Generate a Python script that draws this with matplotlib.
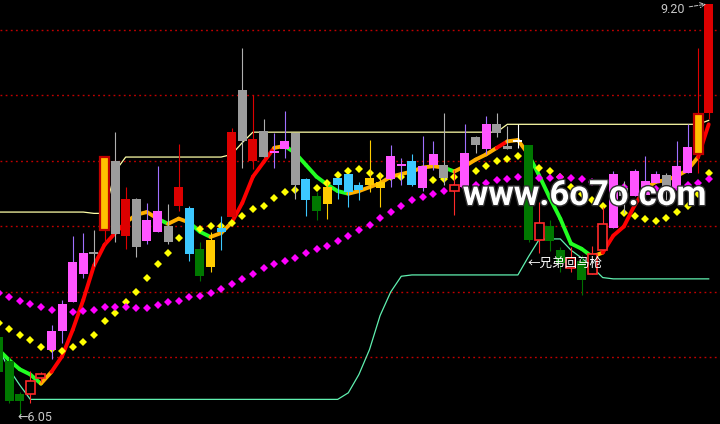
import matplotlib
matplotlib.use('Agg')
import matplotlib.pyplot as plt
import matplotlib.patheffects as pe
from matplotlib.patches import Rectangle
from matplotlib.collections import LineCollection

# daily bars (price axis is linear, 0.5 per grid line)
opens = [6.66, 6.47, 6.22, 6.22, 6.34, 6.56, 6.70, 6.92, 7.14, 7.30,
         7.47, 8.00, 7.71, 7.71, 7.39, 7.46, 7.50, 7.80, 7.64, 7.33,
         7.19, 7.49, 7.57, 8.15, 8.17, 8.03, 8.06, 8.09, 8.21, 7.86,
         7.73, 7.67, 7.87, 7.90, 7.82, 7.82, 7.79, 7.86, 7.98, 8.00,
         7.79, 7.97, 7.97, 7.77, 7.80, 8.18, 8.09, 8.28, 8.115, 8.15,
         8.12, 7.40, 7.50, 7.32, 7.18, 7.24, 7.14, 7.32, 7.49, 7.79,
         7.73, 7.74, 7.83, 7.89, 7.79, 7.91, 8.05, 8.37]
closes = [6.39, 6.17, 6.17, 6.32, 6.37, 6.70, 6.91, 7.23, 7.30, 7.29,
          8.03, 7.44, 7.43, 7.34, 7.55, 7.62, 7.38, 7.66, 7.29, 7.12,
          7.40, 7.46, 8.22, 8.54, 8.00, 8.23, 8.08, 8.15, 7.82, 7.70,
          7.62, 7.80, 7.82, 7.76, 7.78, 7.87, 7.84, 8.04, 7.96, 7.82,
          7.96, 8.05, 7.87, 7.82, 8.06, 8.12, 8.28, 8.21, 8.09, 8.145,
          7.40, 7.53, 7.39, 7.22, 7.26, 7.09, 7.29, 7.52, 7.90, 7.73,
          7.92, 7.85, 7.90, 7.80, 7.96, 8.11, 8.36, 9.20]
highs = [6.67, 6.50, 6.24, 6.40, 6.39, 6.75, 6.94, 7.43, 7.45, 7.47,
         8.03, 8.22, 7.80, 7.72, 7.68, 7.96, 7.67, 8.13, 7.66, 7.38,
         7.46, 7.58, 8.25, 8.86, 8.50, 8.32, 8.21, 8.38, 8.21, 7.87,
         7.76, 7.84, 7.87, 7.90, 7.84, 8.16, 7.91, 8.12, 8.02, 8.05,
         8.19, 8.15, 8.37, 7.93, 8.28, 8.19, 8.34, 8.37, 8.27, 8.28,
         8.12, 7.69, 7.55, 7.34, 7.34, 7.28, 7.35, 7.65, 7.92, 7.85,
         7.94, 8.04, 7.92, 7.91, 8.15, 8.28, 8.86, 9.20]
lows = [6.37, 6.15, 6.05, 6.15, 6.31, 6.49, 6.61, 6.92, 7.11, 7.20,
        7.37, 7.38, 7.33, 7.27, 7.37, 7.46, 7.37, 7.62, 7.24, 7.08,
        7.15, 7.32, 7.56, 7.95, 7.94, 8.03, 7.95, 8.02, 7.71, 7.58,
        7.55, 7.56, 7.71, 7.65, 7.70, 7.76, 7.65, 7.80, 7.82, 7.81,
        7.77, 7.93, 7.82, 7.59, 7.80, 8.06, 8.05, 8.18, 8.09, 8.10,
        7.38, 7.30, 7.31, 7.15, 7.15, 6.98, 7.14, 7.32, 7.49, 7.60,
        7.73, 7.74, 7.83, 7.66, 7.69, 7.91, 7.91, 8.32]

# candle colour class per bar
kinds = ['g', 'g', 'g', 'r', 'r', 'm', 'm', 'm', 'm', 'k',
         'o', 'k', 'R', 'k', 'm', 'm', 'k', 'R', 'b', 'g',
         'y', 'b', 'R', 'k', 'R', 'k', 'm', 'm', 'k', 'b',
         'g', 'y', 'b', 'b', 'b', 'y', 'y', 'm', 'm', 'b',
         'm', 'm', 'k', 'r', 'm', 'k', 'm', 'k', 'k', 'w',
         'g', 'r', 'g', 'g', 'r', 'g', 'r', 'r', 'm', 'k',
         'm', 'm', 'm', 'k', 'm', 'm', 'o', 'R']

# thick moving average, coloured by trend
ma_line = [6.56, 6.48, 6.41, 6.37, 6.30, 6.39, 6.51, 6.71, 6.94, 7.20,
           7.36, 7.45, 7.53, 7.59, 7.61, 7.56, 7.52, 7.56, 7.53, 7.46,
           7.42, 7.45, 7.53, 7.68, 7.88, 7.99, 8.10, 8.115, 8.06, 7.97,
           7.88, 7.82, 7.77, 7.75, 7.77, 7.80, 7.83, 7.88, 7.90, 7.92,
           7.95, 7.96, 7.95, 7.92, 7.96, 8.01, 8.05, 8.10, 8.15, 8.16,
           8.05, 7.89, 7.72, 7.56, 7.37, 7.33, 7.27, 7.30, 7.43, 7.50,
           7.66, 7.79, 7.84, 7.855, 7.885, 7.93, 8.03, 8.28]
ma_trend = ("GGGG O RRRRRRR OOO G OO GG OO RRRR O GGGGGG OOOOOOOOO G OOOO R OO "
            "GGGGGG O RRRR OOOOO R").replace(' ', '')

yellow_dots = [6.76, 6.72, 6.67, 6.63, 6.58, 6.565, 6.55, 6.58, 6.62, 6.67,
               6.78, 6.84, 6.92, 7.00, 7.11, 7.21, 7.30, 7.41, 7.45, 7.48,
               7.50, 7.50, 7.53, 7.58, 7.63, 7.66, 7.72, 7.76, 7.78, 7.79,
               7.79, 7.83, 7.89, 7.92, 7.94, 7.91, 7.885, 7.88, 7.88, 7.87,
               7.86, 7.855, 7.86, 7.88, 7.90, 7.92, 7.96, 8.00, 8.015, 8.04,
               7.99, 7.95, 7.92, 7.88, 7.80, 7.75, 7.70, 7.66, 7.63, 7.60,
               7.58, 7.56, 7.54, 7.565, 7.61, 7.66, 7.75, 7.91]
magenta_dots = [6.99, 6.96, 6.93, 6.91, 6.885, 6.86, 6.855, 6.85, 6.855, 6.86,
                6.885, 6.885, 6.885, 6.88, 6.88, 6.90, 6.92, 6.93, 6.96, 6.97,
                6.99, 7.02, 7.06, 7.10, 7.14, 7.18, 7.21, 7.24, 7.26, 7.30,
                7.33, 7.35, 7.39, 7.43, 7.47, 7.51, 7.565, 7.61, 7.66, 7.70,
                7.725, 7.75, 7.77, 7.79, 7.80, 7.82, 7.83, 7.855, 7.86, 7.88,
                7.87, 7.87, 7.87, 7.88, 7.87, 7.86, 7.84, 7.82, 7.81, 7.80,
                7.79, 7.785, 7.785, 7.79, 7.80, 7.82, 7.83, 7.86]

upper_band = [7.61, 7.61, 7.61, 7.61, 7.61, 7.61, 7.61, 7.61, 7.61, 7.60,
              7.60, 7.92, 8.03, 8.03, 8.03, 8.03, 8.03, 8.03, 8.03, 8.03,
              8.03, 8.03, 8.05, 8.14, 8.22, 8.22, 8.22, 8.22, 8.22, 8.22,
              8.22, 8.22, 8.22, 8.22, 8.22, 8.22, 8.22, 8.22, 8.22, 8.22,
              8.22, 8.22, 8.22, 8.22, 8.22, 8.22, 8.22, 8.22, 8.28, 8.28,
              8.28, 8.28, 8.28, 8.28, 8.28, 8.28, 8.28, 8.28, 8.28, 8.28,
              8.28, 8.28, 8.28, 8.28, 8.28, 8.28, 8.28, 8.31]
lower_band = [6.57, 6.41, 6.29, 6.18, 6.18, 6.18, 6.18, 6.18, 6.18, 6.18,
              6.18, 6.18, 6.18, 6.18, 6.18, 6.18, 6.18, 6.18, 6.18, 6.18,
              6.18, 6.18, 6.18, 6.18, 6.18, 6.18, 6.18, 6.18, 6.18, 6.18,
              6.18, 6.18, 6.18, 6.23, 6.37, 6.56, 6.82, 7.00, 7.12, 7.13,
              7.13, 7.13, 7.13, 7.13, 7.13, 7.13, 7.13, 7.13, 7.13, 7.13,
              7.27, 7.40, 7.405, 7.405, 7.32, 7.26, 7.19, 7.11, 7.10, 7.10,
              7.10, 7.10, 7.10, 7.10, 7.10, 7.10, 7.10, 7.10]

grid_levels = [6.5, 7.0, 7.5, 8.0, 8.5, 9.0]

body_col = {'g': '#007800', 'r': 'black', 'R': '#dd0000', 'm': '#ff55ff', 'k': '#9c9c9c',
            'b': '#3cc8ff', 'y': '#ffcc00', 'o': '#ffc000', 'w': 'white'}
edge_col = {'g': '#007800', 'r': '#ff2a2a', 'R': '#dd0000', 'm': '#ff55ff', 'k': '#9c9c9c',
            'b': '#3cc8ff', 'y': '#ffcc00', 'o': '#c00000', 'w': 'white'}
wick_col = {'g': '#007000', 'r': '#ff2a2a', 'R': '#dd0000', 'm': '#a070ff', 'k': '#b0b0b0',
            'b': '#3cc8ff', 'y': '#ffcc00', 'o': '#dd0000', 'w': 'white'}
trend_col = {'G': '#22ff22', 'O': '#ffb000', 'R': '#ff0000'}

fig = plt.figure(figsize=(7.2, 4.24), dpi=100)
fig.patch.set_facecolor('black')
ax = fig.add_axes([0, 0, 1, 1])
ax.set_facecolor('black')
ax.set_xlim(0.1415, 68.066)
ax.set_ylim(5.992, 9.229)
ax.axis('off')

x = list(range(len(closes)))

for lvl in grid_levels:
    ax.axhline(lvl, color='#c00000', lw=1, linestyle=(0, (1.3, 2.4)), zorder=1)

ax.plot(x, upper_band, color='#ffffa8', lw=0.9, zorder=2)
ax.plot(x, lower_band, color='#60f0b0', lw=0.9, zorder=2)

segs = [[(x[j], ma_line[j]), (x[j + 1], ma_line[j + 1])] for j in range(len(x) - 1)]
lc = LineCollection(segs, colors=[trend_col[c] for c in ma_trend], linewidths=2.8,
                    capstyle='round', zorder=3)
ax.add_collection(lc)

ax.plot(x, yellow_dots, 'D', color='#ffff00', ms=3.8, mew=0, zorder=4)
ax.plot(x, magenta_dots, 'D', color='#ff00ff', ms=3.8, mew=0, zorder=4)

w = 0.85
for i in x:
    k = kinds[i]
    ax.vlines(i, lows[i], highs[i], color=wick_col[k], lw=0.8, zorder=5)
    lo = min(opens[i], closes[i])
    h = max(abs(closes[i] - opens[i]), 0.018)
    lw = 1.2 if k == 'r' else (1.6 if k == 'o' else 0)
    ax.add_patch(Rectangle((i - w / 2, lo), w, h, facecolor=body_col[k],
                           edgecolor=edge_col[k], lw=lw, zorder=6))

gray_txt = '#c8c8c8'
ax.annotate('9.20', xy=(67, highs[67]), xytext=(-17, -4), textcoords='offset points',
            ha='right', va='center', color=gray_txt, fontsize=9,
            family=['Roboto', 'DejaVu Sans'],
            arrowprops=dict(arrowstyle='->', color=gray_txt, lw=0.7, linestyle='--',
                            shrinkA=1, shrinkB=2), zorder=8)
ax.annotate('←6.05', xy=(2, lows[2]), xytext=(-1.5, -1), textcoords='offset points',
            ha='left', va='center', color=gray_txt, fontsize=9,
            family=['Roboto', 'DejaVu Sans'], zorder=8)

ax.text(49.95, 7.22, '←兄弟回马枪', color='white', fontsize=9, ha='left', va='center',
        family=['Noto Sans CJK SC', 'DejaVu Sans'], zorder=8)

ax.text(43.8, 7.664, 'www.6o7o.com', color='white', fontsize=25, fontweight='bold',
        family=['Roboto', 'DejaVu Sans'], ha='left', va='baseline', zorder=9,
        path_effects=[pe.Stroke(linewidth=2, foreground='#303030'), pe.Normal()])

fig.savefig('out.png', dpi=100, facecolor='black')
